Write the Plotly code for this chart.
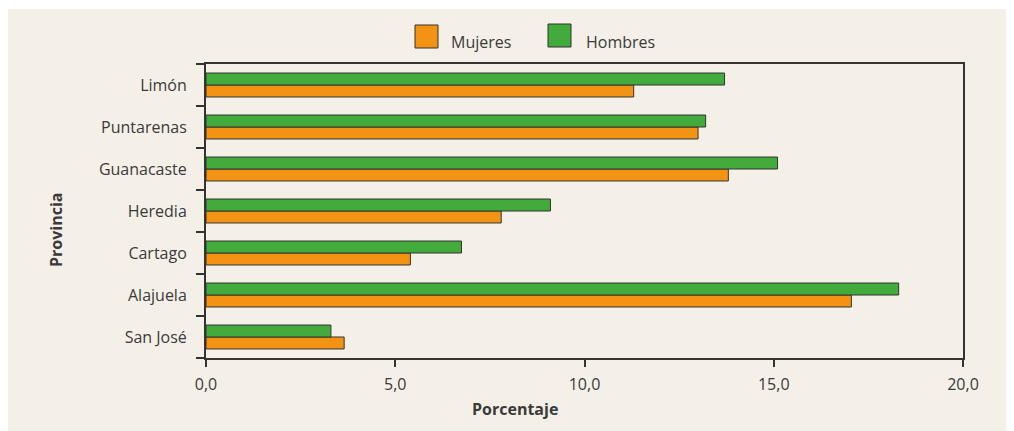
import plotly.graph_objects as go

provincias = ["San José", "Alajuela", "Cartago", "Heredia", "Guanacaste", "Puntarenas", "Limón"]
mujeres = [3.65, 17.05, 5.4, 7.8, 13.8, 13.0, 11.3]
hombres = [3.3, 18.3, 6.75, 9.1, 15.1, 13.2, 13.7]
x_ticks = [0, 5, 10, 15, 20]

ORANGE = "#F39313"
GREEN = "#43AA3C"
BEIGE = "#F4F0E8"
DARK = "#333333"
TEXT = "#3A3A3A"
FONT = "Open Sans"

W, H = 1014, 431
OFF = 8  # page body margin offset
# target plot area in page pixels: x 206..963, y 64..358
L = 206 - OFF
T = 64 - OFF
R = W - (963 - OFF)
B = H - (358 - OFF)
pw, ph = W - L - R, H - T - B

def px_x(p):
    return (p - OFF - L) / pw

def px_y(p):
    return (H - B - (p - OFF)) / ph

fig = go.Figure()
fig.add_trace(go.Bar(y=provincias, x=mujeres, orientation="h", name="Mujeres",
                     marker=dict(color=ORANGE, line=dict(color=DARK, width=1)),
                     showlegend=False))
fig.add_trace(go.Bar(y=provincias, x=hombres, orientation="h", name="Hombres",
                     marker=dict(color=GREEN, line=dict(color=DARK, width=1)),
                     showlegend=False))

shapes = [
    dict(type="rect", xref="paper", yref="paper", layer="below",
         x0=px_x(6), x1=px_x(1008), y0=px_y(440), y1=px_y(9),
         fillcolor=BEIGE, line=dict(width=0)),
    dict(type="rect", xref="paper", yref="paper",
         x0=px_x(415), x1=px_x(438), y0=px_y(48), y1=px_y(25),
         fillcolor=ORANGE, line=dict(color=DARK, width=1)),
    dict(type="rect", xref="paper", yref="paper",
         x0=px_x(548), x1=px_x(571), y0=px_y(47), y1=px_y(24),
         fillcolor=GREEN, line=dict(color=DARK, width=1)),
]

annotations = [
    dict(text="Mujeres", xref="paper", yref="paper", x=px_x(449), y=px_y(42),
         xanchor="left", yanchor="middle", showarrow=False,
         font=dict(family=FONT, size=16, color=TEXT)),
    dict(text="Hombres", xref="paper", yref="paper", x=px_x(584), y=px_y(42),
         xanchor="left", yanchor="middle", showarrow=False,
         font=dict(family=FONT, size=16, color=TEXT)),
    dict(text="<b>Provincia</b>", xref="paper", yref="paper", x=px_x(56), y=px_y(230),
         xanchor="center", yanchor="middle", showarrow=False, textangle=-90,
         font=dict(family=FONT, size=16, color=TEXT)),
    dict(text="<b>Porcentaje</b>", xref="paper", yref="paper", x=px_x(515), y=px_y(409),
         xanchor="center", yanchor="middle", showarrow=False,
         font=dict(family=FONT, size=16, color=TEXT)),
]

fig.update_layout(
    width=W, height=H,
    margin=dict(l=L, r=R, t=T, b=B, pad=0),
    paper_bgcolor="white", plot_bgcolor=BEIGE,
    barmode="group", bargap=0.43, bargroupgap=0,
    separators=",.",
    font=dict(family=FONT, size=16, color=TEXT),
    shapes=shapes, annotations=annotations,
    xaxis=dict(range=[0, 20], tickvals=x_ticks, tickformat=".1f",
               showgrid=False, zeroline=False,
               showline=True, linecolor=DARK, linewidth=2, mirror=True,
               ticks="outside", ticklen=7, tickwidth=2, tickcolor=DARK,
               ticklabelstandoff=4,
               tickfont=dict(family=FONT, size=16, color=TEXT)),
    yaxis=dict(categoryorder="array", categoryarray=provincias,
               showgrid=False, zeroline=False,
               showline=True, linecolor=DARK, linewidth=2, mirror=True,
               ticks="outside", ticklen=8, tickwidth=2, tickcolor=DARK,
               tickson="boundaries", ticklabelstandoff=14,
               tickfont=dict(family=FONT, size=16, color=TEXT)),
)

fig.write_html("out.html")
